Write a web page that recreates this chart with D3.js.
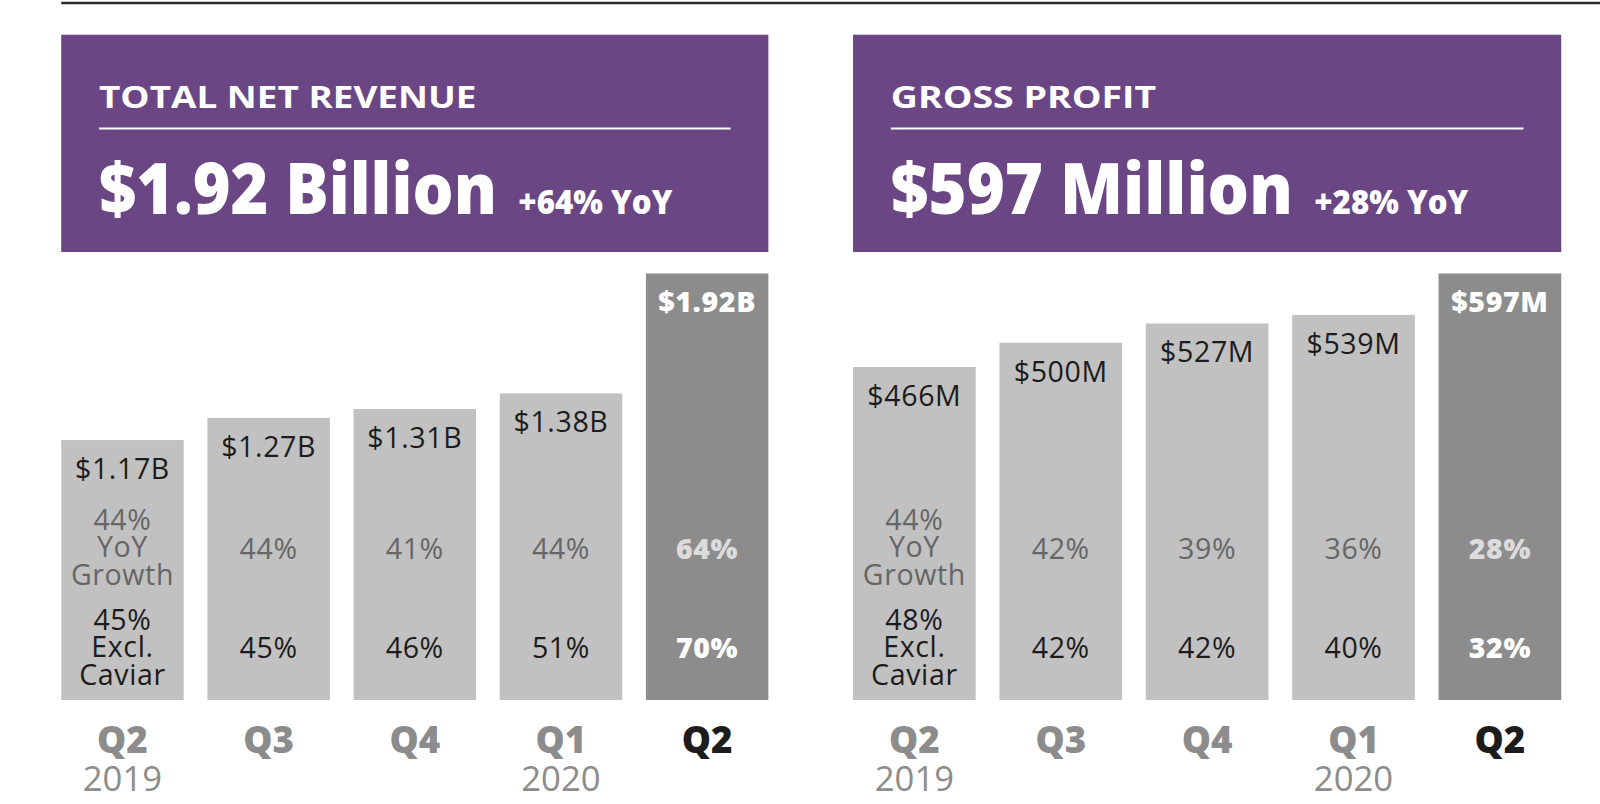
<!doctype html>
<html>
<head>
<meta charset="utf-8">
<title>Revenue and Gross Profit</title>
<script src="https://d3js.org/d3.v7.min.js"></script>
<style>
  body { margin: 0; background: #fff; }
  svg { display: block; }
  text { font-family: 'Open Sans', 'Noto Sans', sans-serif; }
  .in-bar { letter-spacing: 0.6px; }
</style>
</head>
<body>
<script>
// quarters shared by both panels
var quarters = ["Q2", "Q3", "Q4", "Q1", "Q2 "];
var years = ["2019", "", "", "2020", ""];

// total net revenue ($B)
var revenue = [1.17, 1.27, 1.31, 1.38, 1.92];
var revenueLabels = ["$1.17B", "$1.27B", "$1.31B", "$1.38B", "$1.92B"];
var revenueYoY = ["44%", "44%", "41%", "44%", "64%"];
var revenueExCaviar = ["45%", "45%", "46%", "51%", "70%"];

// gross profit ($M)
var profit = [466, 500, 527, 539, 597];
var profitLabels = ["$466M", "$500M", "$527M", "$539M", "$597M"];
var profitYoY = ["44%", "42%", "39%", "36%", "28%"];
var profitExCaviar = ["48%", "42%", "42%", "40%", "32%"];

var width = 1600, height = 804;
var purple = "#6b4685";
var lightBar = "#c1c1c1", darkBar = "#8c8c8c";

var svg = d3.select("body").append("svg")
  .attr("width", width)
  .attr("height", height);

// layout below was measured on a 1568 wide copy, so scale it up
var root = svg.append("g")
  .attr("transform", "scale(" + (width / 1568) + ")");

// rule across the top
root.append("line")
  .attr("x1", 60).attr("x2", width)
  .attr("y1", 3).attr("y2", 3)
  .attr("stroke", "#2b2b2b")
  .attr("stroke-width", 2.5);

var panels = [
  { x0: 60, x1: 753, title: "TOTAL NET REVENUE", titleLen: 370,
    big: "$1.92 Billion", bigLen: 390, yoy: "+64% YoY", yoyLen: 151,
    values: revenue, labels: revenueLabels, growth: revenueYoY, excl: revenueExCaviar },
  { x0: 836, x1: 1530, title: "GROSS PROFIT", titleLen: 260,
    big: "$597 Million", bigLen: 394, yoy: "+28% YoY", yoyLen: 151,
    values: profit, labels: profitLabels, growth: profitYoY, excl: profitExCaviar }
];

panels.forEach(function(p) {
  var g = root.append("g");

  // header box
  g.append("rect")
    .attr("x", p.x0).attr("y", 34)
    .attr("width", p.x1 - p.x0).attr("height", 213)
    .attr("fill", purple);

  g.append("text")
    .attr("x", p.x0 + 37).attr("y", 106)
    .attr("fill", "#fff")
    .attr("font-size", 30)
    .attr("font-weight", 700)
    .attr("textLength", p.titleLen)
    .attr("lengthAdjust", "spacingAndGlyphs")
    .text(p.title);

  g.append("line")
    .attr("x1", p.x0 + 37).attr("x2", p.x1 - 37)
    .attr("y1", 126).attr("y2", 126)
    .attr("stroke", "#fff")
    .attr("stroke-width", 2);

  g.append("text")
    .attr("x", p.x0 + 37).attr("y", 210)
    .attr("fill", "#fff")
    .attr("font-size", 70)
    .attr("font-weight", 800)
    .attr("textLength", p.bigLen)
    .attr("lengthAdjust", "spacingAndGlyphs")
    .text(p.big);

  g.append("text")
    .attr("x", p.x0 + 37 + p.bigLen + 21).attr("y", 210)
    .attr("fill", "#fff")
    .attr("font-size", 32)
    .attr("font-weight", 800)
    .attr("textLength", p.yoyLen)
    .attr("lengthAdjust", "spacingAndGlyphs")
    .text(p.yoy);

  // scales
  var x = d3.scaleBand()
    .domain(quarters)
    .range([p.x0, p.x1])
    .paddingInner(0.162)
    .paddingOuter(0);

  var y = d3.scaleLinear()
    .domain([0, d3.max(p.values)])
    .range([686, 268]);

  var last = quarters.length - 1;

  var bars = g.selectAll(".bar")
    .data(p.values)
    .enter().append("g")
      .attr("class", "bar");

  bars.append("rect")
    .attr("x", function(d, i) { return x(quarters[i]); })
    .attr("y", function(d) { return y(d); })
    .attr("width", x.bandwidth())
    .attr("height", function(d) { return y(0) - y(d); })
    .attr("fill", function(d, i) { return i == last ? darkBar : lightBar; });

  var cx = function(d, i) { return x(quarters[i]) + x.bandwidth() / 2; };

  // value label at top of each bar
  bars.append("text")
    .attr("class", "in-bar")
    .attr("x", cx)
    .attr("y", function(d) { return y(d) + 38; })
    .attr("text-anchor", "middle")
    .attr("font-size", 28)
    .attr("font-weight", function(d, i) { return i == last ? 800 : 400; })
    .attr("fill", function(d, i) { return i == last ? "#fff" : "#1c1c1c"; })
    .text(function(d, i) { return p.labels[i]; });

  // YoY growth row
  bars.append("text")
    .attr("class", "in-bar")
    .attr("x", cx)
    .attr("text-anchor", "middle")
    .attr("font-size", 28)
    .attr("font-weight", function(d, i) { return i == last ? 800 : 400; })
    .attr("fill", function(d, i) { return i == last ? "#dcdcdc" : "#666"; })
    .each(function(d, i) {
      var t = d3.select(this);
      var lines = i == 0 ? [p.growth[i], "YoY", "Growth"] : [p.growth[i]];
      var y0 = i == 0 ? 519 : 548;
      lines.forEach(function(s, k) {
        t.append("tspan").attr("x", cx(d, i)).attr("y", y0 + k * 27.3).text(s);
      });
    });

  // excl. Caviar row
  bars.append("text")
    .attr("class", "in-bar")
    .attr("x", cx)
    .attr("text-anchor", "middle")
    .attr("font-size", 28)
    .attr("font-weight", function(d, i) { return i == last ? 800 : 400; })
    .attr("fill", function(d, i) { return i == last ? "#fff" : "#1c1c1c"; })
    .each(function(d, i) {
      var t = d3.select(this);
      var lines = i == 0 ? [p.excl[i], "Excl.", "Caviar"] : [p.excl[i]];
      var y0 = i == 0 ? 617 : 645;
      lines.forEach(function(s, k) {
        t.append("tspan").attr("x", cx(d, i)).attr("y", y0 + k * 27.3).text(s);
      });
    });

  // quarter and year labels
  bars.append("text")
    .attr("x", cx)
    .attr("y", 738)
    .attr("text-anchor", "middle")
    .attr("font-size", 36)
    .attr("font-weight", 800)
    .attr("fill", function(d, i) { return i == last ? "#1c1c1c" : "#8c8c8c"; })
    .text(function(d, i) { return quarters[i].trim(); });

  bars.append("text")
    .attr("x", cx)
    .attr("y", 775)
    .attr("text-anchor", "middle")
    .attr("font-size", 34)
    .attr("fill", "#8c8c8c")
    .text(function(d, i) { return years[i]; });
});
</script>
</body>
</html>
